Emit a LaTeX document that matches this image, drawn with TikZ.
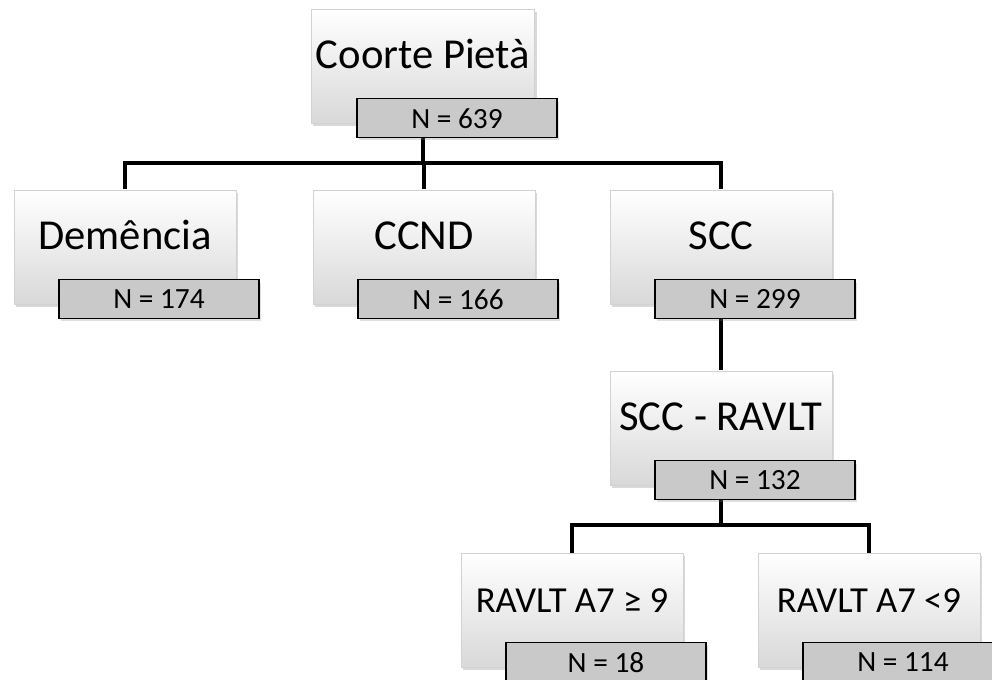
\documentclass[tikz,border=0pt]{standalone}
\usepackage{fontspec}
\setmainfont{Carlito}
\usetikzlibrary{positioning,shadows,backgrounds}

\tikzset{
  cohort/.style={draw=gray!35, top color=white, bottom color=gray!30,
    minimum width=166.5pt, minimum height=85.5pt,
    font=\fontsize{32}{36}\selectfont, text height=0.7em, text depth=0.33em,
    drop shadow={shadow xshift=1.5pt, shadow yshift=-2.5pt, opacity=0.3}},
  count/.style={draw=black, line width=0.8pt, fill=gray!42,
    minimum width=150pt, minimum height=29pt,
    font=\fontsize{22}{26}\selectfont,
    drop shadow={shadow xshift=1.5pt, shadow yshift=-2pt, opacity=0.25}},
  link/.style={line width=3pt, black},
}

\begin{document}
\begin{tikzpicture}[x=0.75pt, y=-0.75pt]
\useasboundingbox (0,0) rectangle (992,680);
% cohort boxes
\node[cohort] (coorte) at (423,66) {Coorte Pietà};
\node[cohort] (dem) at (125,247) {Demência};
\node[cohort] (ccnd) at (424,247) {CCND};
\node[cohort] (scc) at (721,247) {SCC};
\node[cohort] (sccr) at (721,428) {SCC - RAVLT};
\node[cohort, font=\fontsize{27.5}{32}\selectfont] (ravhi) at (572,610) {RAVLT A7 ≥ 9};
\node[cohort, font=\fontsize{27.5}{32}\selectfont] (ravlo) at (869,610) {RAVLT A7 <9};
% sample sizes
\foreach \n/\v in {coorte/639, dem/174, ccnd/166, scc/299, sccr/132, ravhi/18, ravlo/114}
    \node[count] (\n-n) at ([shift={(34,-5)}]\n.south) {N = \v};
% connectors
\begin{scope}[on background layer]
\coordinate (split1) at (424,163);
\coordinate (split2) at (721,525);
\draw[link] (coorte.south) -- (coorte.south |- split1);
\draw[link] (dem.north) |- (split1) -| (scc.north);
\draw[link] (ccnd.north) -- (ccnd.north |- split1);
\draw[link] (scc.south) -- (sccr.north);
\draw[link] (sccr.south) -- (sccr.south |- split2);
\draw[link] (ravhi.north) |- (split2) -| (ravlo.north);
\end{scope}
\end{tikzpicture}
\end{document}
